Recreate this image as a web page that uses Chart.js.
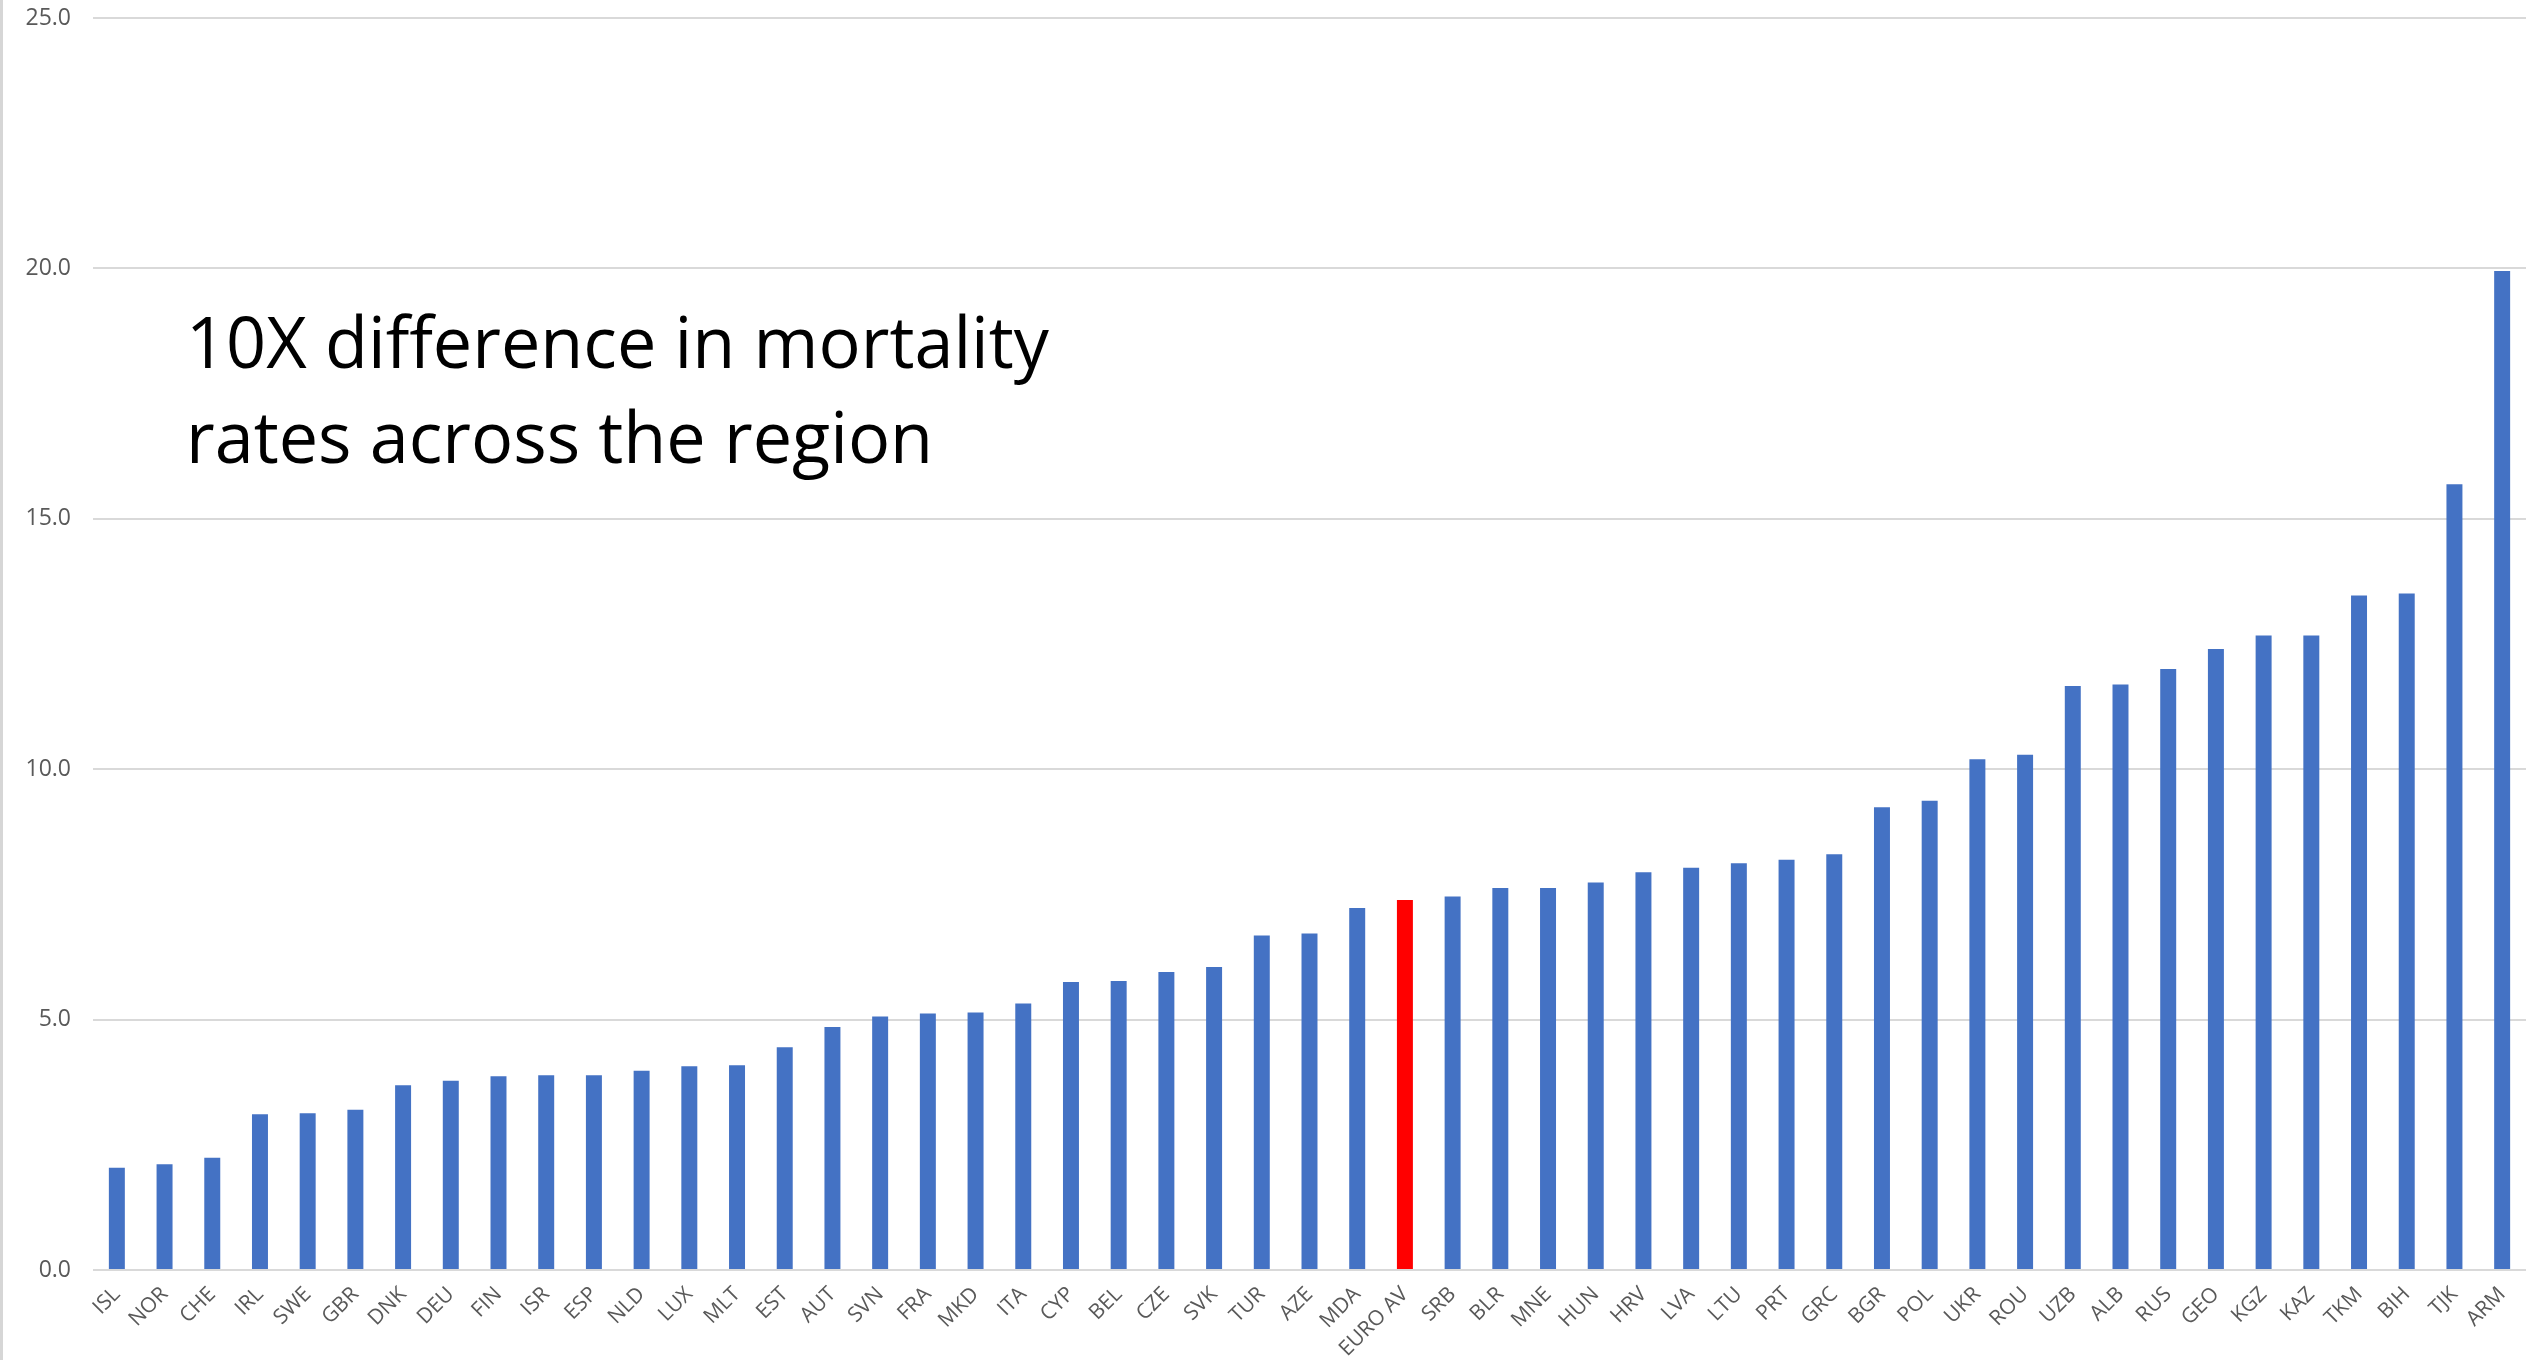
<!DOCTYPE html>
<html>
<head>
<meta charset="utf-8">
<script src="https://cdn.jsdelivr.net/npm/chart.js@4.4.1/dist/chart.umd.min.js"></script>
<style>
  html, body { margin: 0; padding: 0; background: #fff; }
  #wrap { position: relative; width: 2539px; height: 1360px; overflow: hidden; }
  #edge { position: absolute; left: 0; top: 0; width: 3px; height: 1360px; background: #d6d6d6; }
  #note {
    position: absolute; left: 186px; top: 293px;
    font-family: "Open Sans", sans-serif; font-size: 71px; line-height: 95px;
    color: #000; white-space: nowrap;
  }
  #note span { display: block; transform-origin: 0 0; }
</style>
</head>
<body>
<div id="wrap">
  <canvas id="myChart"></canvas>
  <div id="edge"></div>
  <div id="note"><span>10X difference in mortality</span><span>rates across the region</span></div>
</div>
<script>
// countries, sorted by rate
const countries = [
  'ISL','NOR','CHE','IRL','SWE','GBR','DNK','DEU','FIN','ISR','ESP','NLD','LUX','MLT','EST','AUT','SVN',
  'FRA','MKD','ITA','CYP','BEL','CZE','SVK','TUR','AZE','MDA','EURO AV','SRB','BLR','MNE','HUN','HRV',
  'LVA','LTU','PRT','GRC','BGR','POL','UKR','ROU','UZB','ALB','RUS','GEO','KGZ','KAZ','TKM','BIH','TJK','ARM'
];
const rates = [
  2.04, 2.11, 2.24, 3.11, 3.13, 3.20, 3.69, 3.78, 3.87, 3.89, 3.89, 3.98, 4.07, 4.09, 4.45, 4.85, 5.06,
  5.12, 5.14, 5.32, 5.75, 5.77, 5.95, 6.05, 6.68, 6.72, 7.23, 7.39, 7.46, 7.63, 7.63, 7.74, 7.94,
  8.03, 8.12, 8.19, 8.30, 9.24, 9.37, 10.20, 10.29, 11.66, 11.69, 12.00, 12.40, 12.67, 12.67, 13.47, 13.51, 15.69, 19.95
];
const highlight = 'EURO AV';
const yTicks = [0, 5, 10, 15, 20, 25];

const blue = '#4472C4';
const red = '#FF0000';
const gridColor = '#d9d9d9';
const tickColor = '#595959';

const data = {
  labels: countries,
  datasets: [{
    label: 'Mortality rate',
    data: rates,
    backgroundColor: countries.map(c => c === highlight ? red : blue),
    borderWidth: 0,
    barPercentage: 0.335,
    categoryPercentage: 1.0
  }]
};

const config = {
  type: 'bar',
  data: data,
  options: {
    responsive: true,
    maintainAspectRatio: false,
    animation: false,
    layout: { padding: { top: 18, right: 13, bottom: 0, left: 0 } },
    plugins: {
      legend: { display: false },
      title: { display: false },
      tooltip: { enabled: false }
    },
    scales: {
      x: {
        offset: true,
        grid: { display: false, drawTicks: false },
        border: { display: false },
        ticks: {
          autoSkip: false,
          minRotation: 45,
          maxRotation: 45,
          padding: 12,
          color: tickColor,
          font: { family: '"Open Sans", sans-serif', size: 21 }
        },
        afterFit(scale) { scale.height = 90; }
      },
      y: {
        min: 0,
        max: 25,
        afterBuildTicks(scale) { scale.ticks = yTicks.map(v => ({ value: v })); },
        grid: { color: gridColor, lineWidth: 2, drawTicks: false },
        border: { display: false },
        ticks: {
          padding: 22,
          color: tickColor,
          font: { family: '"Open Sans", sans-serif', size: 23 },
          callback: v => Number(v).toFixed(1)
        },
        afterFit(scale) {
          scale.width = 93;
          // let the layout padding alone decide the top of the plot
          scale.paddingTop = 0;
          scale.paddingBottom = 0;
        }
      }
    }
  }
};

const canvas = document.getElementById('myChart');
canvas.style.width = '2539px';
canvas.style.height = '1360px';
const myChart = new Chart(canvas, config);

// squeeze the note text to the width of the original
const spans = document.querySelectorAll('#note span');
const w0 = spans[0].getBoundingClientRect().width;
const sx = 863 / w0;
spans.forEach(s => { s.style.transform = 'scaleX(' + sx + ')'; });
</script>
</body>
</html>
